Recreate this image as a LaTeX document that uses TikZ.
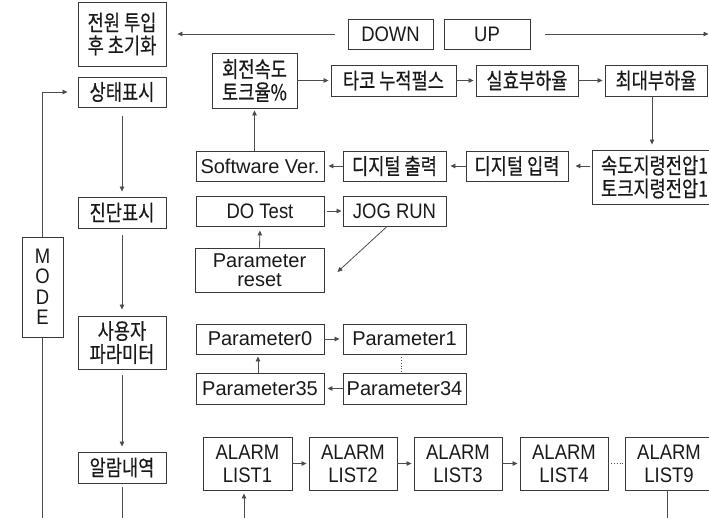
\documentclass[tikz,border=0pt]{standalone}
\usepackage{fontspec}
\setmainfont{Liberation Sans}
\newfontfamily\kr{Noto Sans CJK KR}[FakeStretch=0.8,FakeBold=0.4]
\newfontfamily\lcond{Liberation Sans}[FakeStretch=0.88]
\usetikzlibrary{arrows.meta}
\begin{document}
\begin{tikzpicture}[x=1pt,y=-1pt,
  box/.style={draw=black!78, line width=0.9pt, inner sep=0pt, align=center, text=black!90},
  kbox/.style={box, font=\kr\fontsize{22}{23}\selectfont},
  lbox/.style={box, font=\fontsize{20}{22}\selectfont},
  cbox/.style={box, font=\lcond\fontsize{21}{23}\selectfont},
  conn/.style={draw=black!70, line width=0.8pt},
  arr/.style={conn, -{Triangle[length=5pt,width=4.5pt]}},
  dotl/.style={conn, dotted}]
\useasboundingbox (0,0) rectangle (709,517);
\clip (0,0) rectangle (709,517);
% left column
\node[kbox, minimum width=88pt, minimum height=64pt] (init) at (122,34) {전원 투입\\후 초기화};
\node[kbox, minimum width=88pt, minimum height=30pt] (stat) at (122,92) {상태표시};
\node[kbox, minimum width=88pt, minimum height=31pt] (diag) at (122,212.5) {진단표시};
\node[kbox, minimum width=88pt, minimum height=53pt] (user) at (122,342.5) {사용자\\파라미터};
\node[kbox, minimum width=88pt, minimum height=31pt] (alarm) at (122,467.5) {알람내역};
\node[cbox, minimum width=41pt, minimum height=100pt, font=\lcond\fontsize{21}{20.5}\selectfont] (mode) at (42.5,287) {M\\O\\D\\E};
% top
\node[cbox, minimum width=85pt, minimum height=30pt] (down) at (390.5,34) {DOWN};
\node[cbox, minimum width=86pt, minimum height=30pt] (up) at (487,34) {UP};
% status row
\node[kbox, minimum width=85pt, minimum height=55pt] (rot) at (254.5,80.5) {회전속도\\토크율\%};
\node[kbox, minimum width=125pt, minimum height=31pt] (tacho) at (393.5,80.5) {타코 누적펄스};
\node[kbox, minimum width=102pt, minimum height=31pt] (eff) at (527,80.5) {실효부하율};
\node[kbox, minimum width=102pt, minimum height=31pt] (max) at (656,80.5) {최대부하율};
\node[kbox, minimum width=125pt, minimum height=54pt] (volt) at (654.5,177) {속도지령전압1\\토크지령전압1};
\node[kbox, minimum width=102pt, minimum height=30pt] (din) at (517,166) {디지털 입력};
\node[kbox, minimum width=103pt, minimum height=30pt] (dout) at (394.5,166) {디지털 출력};
\node[lbox, minimum width=128pt, minimum height=30pt] (sw) at (260,166) {Software Ver.};
% diagnosis
\node[cbox, minimum width=128pt, minimum height=30pt] (dot) at (260,211) {DO Test};
\node[cbox, minimum width=103pt, minimum height=30pt] (jog) at (394.5,211) {JOG RUN};
\node[lbox, minimum width=129pt, minimum height=44pt, font=\fontsize{20}{18.5}\selectfont] (preset) at (259.5,270) {Parameter\\reset};
% parameters
\node[lbox, minimum width=128pt, minimum height=30pt] (p0) at (260,339) {Parameter0};
\node[lbox, minimum width=123pt, minimum height=30pt] (p1) at (404.5,339) {Parameter1};
\node[lbox, minimum width=128pt, minimum height=31pt] (p35) at (260,388.5) {Parameter35};
\node[lbox, minimum width=123pt, minimum height=31pt] (p34) at (404.5,388.5) {Parameter34};
% alarms
\node[cbox, minimum width=89pt, minimum height=53pt] (a1) at (247.5,463.5) {ALARM\\LIST1};
\node[cbox, minimum width=88pt, minimum height=53pt] (a2) at (353,463.5) {ALARM\\LIST2};
\node[cbox, minimum width=88pt, minimum height=53pt] (a3) at (458,463.5) {ALARM\\LIST3};
\node[cbox, minimum width=88pt, minimum height=53pt] (a4) at (564,463.5) {ALARM\\LIST4};
\node[cbox, minimum width=88pt, minimum height=53pt] (a9) at (669,463.5) {ALARM\\LIST9};
% free ends
\coordinate (modeend) at (42.5,522);
\coordinate (alarmend) at (122,522);
\coordinate (rightend) at (708.5,34);
\coordinate (a9end) at (667,522);
\coordinate (a1in) at (244,522);
% connectors
\draw[arr, shorten >=10pt] (mode.north) |- (stat.west);
\draw[conn] (mode.south) -- (modeend);
\draw[arr, shorten <=9pt, shorten >=5pt] (stat.south) -- (diag.north);
\draw[arr, shorten <=7pt, shorten >=6pt] (diag.south) -- (user.north);
\draw[arr, shorten <=6pt, shorten >=5pt] (user.south) -- (alarm.north);
\draw[conn, shorten <=4pt] (alarm.south) -- (alarmend);
\draw[arr, shorten <=13pt, shorten >=11pt] (down.west) -- (init.east);
\draw[arr, shorten <=15pt] (up.east) -- (rightend);
\draw[arr, shorten >=2pt] (rot.east) -- (tacho.west);
\draw[arr, shorten >=2pt] (tacho.east) -- (eff.west);
\draw[arr, shorten >=2pt] (eff.east) -- (max.west);
\draw[arr, shorten >=5pt] ([xshift=-4pt]max.south) -- ([xshift=-4pt]max.south |- volt.north);
\draw[arr, shorten <=2pt, shorten >=7pt] (volt.west |- din.east) -- (din.east);
\draw[arr, shorten >=4pt] (din.west) -- (dout.east);
\draw[arr, shorten >=4pt] (dout.west) -- (sw.east);
\draw[arr, shorten >=2pt] (rot.south |- sw.north) -- (rot.south);
\draw[arr, shorten <=3pt, shorten >=1pt] (dot.east) -- (jog.west);
\draw[arr, shorten >=4pt] (preset.north) -- (dot.south);
\draw[arr] ([xshift=-7.5pt]jog.south) -- ([xshift=13pt,yshift=-2pt]preset.east);
\draw[arr, shorten >=3pt] (p0.east) -- (p1.west);
\draw[dotl] ([xshift=-3.5pt]p1.south) -- ([xshift=-3.5pt]p34.north);
\draw[arr, shorten >=3pt] (p34.west) -- (p35.east);
\draw[arr, shorten >=2pt] ([xshift=-2pt]p35.north) -- ([xshift=-2pt]p0.south);
\draw[arr, shorten >=2pt] (a1.east) -- (a2.west);
\draw[arr, shorten >=2pt] (a2.east) -- (a3.west);
\draw[arr, shorten >=2pt] (a3.east) -- (a4.west);
\draw[dotl] (a4.east) -- (a9.west);
\draw[conn] ([xshift=-2pt]a9.south) -- (a9end);
\draw[arr, shorten >=3pt] (a1in) -- ([xshift=-3.5pt]a1.south);
\end{tikzpicture}
\end{document}
